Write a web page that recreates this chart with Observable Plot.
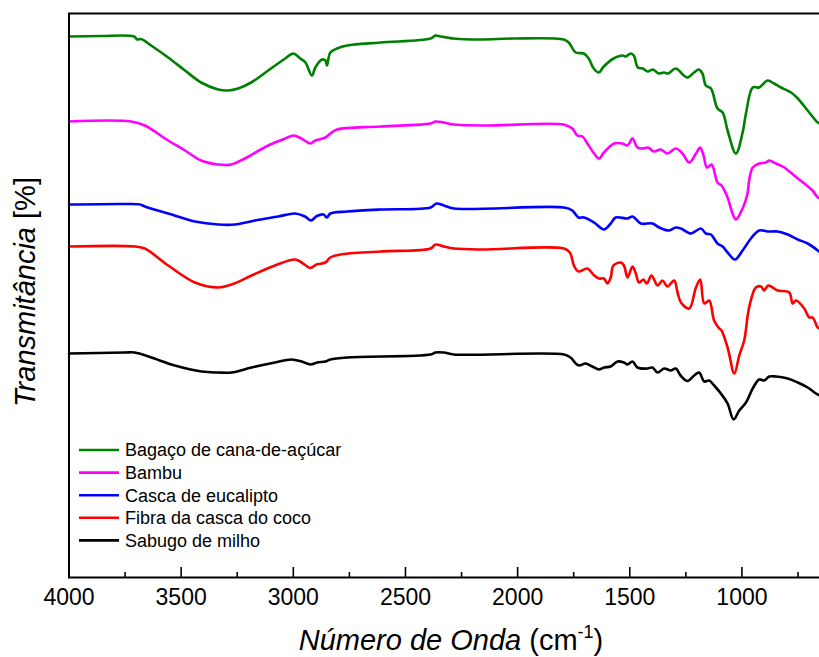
<!DOCTYPE html>
<html>
<head>
<meta charset="utf-8">
<script src="https://cdn.jsdelivr.net/npm/d3@7"></script>
<script src="https://cdn.jsdelivr.net/npm/@observablehq/plot@0.6"></script>
<style>
  html, body { margin: 0; padding: 0; background: #fff; }
  #chart { width: 819px; height: 657px; overflow: hidden; }
</style>
</head>
<body>
<div id="chart"></div>
<script>
// Series names and colours
const seriesNames = ["Bagaço de cana-de-açúcar", "Bambu", "Casca de eucalipto", "Fibra da casca do coco", "Sabugo de milho"];
const seriesColors = ["#008000", "#ff00ff", "#0000ff", "#ff0000", "#000000"];

// Spectra: [wavenumber (cm-1), transmittance (a.u., stacked)]
const bagaco = [[4000,541],[3862,541.5],[3710,541],[3696,538],[3679,538.5],[3634,532],[3558,520],[3483,507],[3411,495],[3335,488],[3290,487],[3246,489],[3188,495],[3112,507],[3036,519],[3000,524],[2969,519],[2946,515],[2917,502],[2902,510],[2872,518],[2857,517],[2850,512],[2835,525],[2805,529],[2760,532],[2612,535],[2388,539],[2366,542],[2344,541],[2314,540],[2286,539],[2165,538],[2018,539],[1795,538],[1772,535],[1741,525],[1705,524],[1683,519],[1661,509],[1638,505],[1616,511],[1572,519],[1531,522],[1518,521],[1496,524],[1482,522],[1464,510],[1442,509],[1420,506],[1397,508],[1371,504],[1348,505],[1330,504],[1295,509],[1259,502],[1241,500],[1214,505],[1192,508],[1176,504],[1161,492],[1138,489],[1109,469],[1086,465],[1064,447],[1027,424],[997,445],[982,464],[952,490],[924,490],[885,497],[857,494],[826,490],[781,485],[751,479],[707,467],[662,455],[652,454]];
const bambu = [[4000,456],[3723,456],[3662,452],[3558,437],[3483,427],[3411,417],[3335,413],[3277,413],[3216,419],[3112,432],[3036,439],[2999,442],[2964,439],[2923,434],[2902,437],[2857,440],[2835,444],[2805,448],[2612,451],[2388,454],[2366,456],[2330,455],[2286,453],[2135,452],[1795,453],[1756,449],[1734,442],[1711,441],[1689,434],[1659,424],[1637,419],[1615,425],[1570,434],[1533,434],[1510,432],[1488,439],[1466,430],[1443,429],[1418,430],[1392,426],[1362,428],[1332,424],[1295,429],[1265,424],[1235,415],[1205,424],[1186,430],[1171,422],[1156,410],[1135,413],[1109,395],[1091,392],[1064,380],[1042,364],[1027,358],[997,369],[975,384],[968,397],[952,410],[923,414],[893,415],[878,417],[848,414],[811,410],[767,402],[722,394],[685,387],[662,380],[652,379]];
const eucalipto = [[4000,373],[3751,373.5],[3683,373],[3662,371],[3558,364],[3439,356],[3335,353],[3260,353],[3171,357],[3067,361],[2992,364],[2948,361],[2921,357],[2895,361.5],[2865,363],[2850,360],[2835,364],[2760,366],[2612,368],[2388,370],[2362,374],[2329,372],[2284,369],[1793,370],[1756,367],[1729,360],[1704,360],[1659,355],[1615,348],[1585,354],[1563,360],[1510,359],[1488,361],[1451,354],[1399,354],[1369,350],[1325,347],[1295,350],[1272,349],[1228,344],[1183,349],[1161,344],[1138,343],[1109,334],[1086,331],[1064,325],[1031,318],[997,327],[960,339],[923,347],[885,346],[841,346],[796,343],[751,338],[707,334],[662,327],[652,325]];
const coco = [[4000,331],[3705,331],[3662,329],[3558,312],[3439,295],[3335,290],[3276,293],[3186,302],[3082,312],[2992,318],[2963,315],[2924,309.5],[2897,313],[2857,315],[2835,320],[2790,323],[2612,326],[2388,329],[2366,333],[2329,331],[2284,329],[2165,328],[1793,329],[1767,325],[1749,312],[1729,306],[1689,309],[1659,302],[1637,299],[1615,299],[1600,294],[1585,300],[1573,312],[1540,315],[1526,312],[1510,300],[1488,311],[1473,304],[1459,295],[1439,298],[1424,294],[1403,302],[1376,292],[1354,297],[1332,291],[1302,297],[1287,285],[1272,275],[1235,269],[1205,290],[1186,298],[1168,274],[1146,277],[1124,257],[1101,249],[1091,247],[1064,230],[1034,204],[1012,222],[990,237],[968,270],[938,290],[915,291],[901,287],[883,292],[863,290],[841,287],[789,285],[774,274],[759,277],[722,269],[700,260],[685,260],[662,250],[652,249]];
const sabugo = [[4000,224],[3751,225],[3707,225],[3633,220],[3528,212],[3409,206],[3335,205],[3276,205],[3186,210],[3082,215],[3008,218],[2963,216],[2923,213],[2894,215],[2857,216],[2835,218],[2760,220],[2388,223],[2366,225],[2329,225],[2284,223],[1793,223],[1764,220],[1741,214],[1726,212],[1697,214],[1667,211],[1637,208],[1615,210],[1585,211],[1555,216],[1526,215],[1510,213],[1488,216],[1466,210],[1421,209],[1399,210],[1376,205],[1347,209],[1317,207],[1295,209],[1272,201.5],[1243,196.5],[1213,202],[1191,205],[1168,196],[1146,197],[1124,192],[1094,184],[1064,174],[1037,158],[1012,167],[982,175],[952,189],[923,198],[901,197],[878,201],[848,201],[796,199],[751,195],[707,190],[670,184],[652,182]];

// Axis ticks
const majorTicks = [4000, 3500, 3000, 2500, 2000, 1500, 1000];
const minorTicks = [3750, 3250, 2750, 2250, 1750, 1250, 750];
const xDomain = [4000, 652];
const yDomain = [0, 564];

const spectra = [bagaco, bambu, eucalipto, coco, sabugo];
const rows = spectra.flatMap((s, i) => s.map(([wn, t]) => ({wn, t, name: seriesNames[i]})));

const font = "'Liberation Sans', Arial, Helvetica, sans-serif";
const W = 819, H = 657, mL = 68, mR = 0, mT = 13, mB = 80;

const plot = Plot.plot({
  width: W,
  height: H,
  marginLeft: mL,
  marginRight: mR,
  marginTop: mT,
  marginBottom: mB,
  style: {fontFamily: font, background: "#fff", overflow: "visible"},
  x: {domain: xDomain, range: [mL + 0.5, W + 0.5], axis: null},
  y: {domain: yDomain, axis: null},
  color: {domain: seriesNames, range: seriesColors},
  marks: [
    Plot.line(rows, {x: "wn", y: "t", z: "name", stroke: "name", strokeWidth: 2.6, curve: "catmull-rom", strokeLinejoin: "round"}),
    Plot.ruleY([yDomain[0], yDomain[1]], {stroke: "#000", strokeWidth: 2}),
    Plot.ruleX([xDomain[0]], {stroke: "#000", strokeWidth: 2}),
    Plot.tickX(majorTicks, {x: d => d, stroke: "#000", strokeWidth: 1.6, insetTop: 554}),
    Plot.tickX(minorTicks, {x: d => d, stroke: "#000", strokeWidth: 1.6, insetTop: 559}),
    Plot.axisX({ticks: majorTicks, tickSize: 0, tickPadding: 11, fontSize: 23, tickFormat: d => String(d), label: null, fill: "#000"})
  ]
});

document.getElementById("chart").appendChild(plot);

const svg = d3.select(plot);
// X axis title
const xt = svg.append("text")
  .attr("x", 451).attr("y", 650)
  .attr("text-anchor", "middle")
  .attr("font-family", font).attr("font-size", 29).attr("fill", "#000");
xt.append("tspan").attr("font-style", "italic").text("Número de Onda");
xt.append("tspan").text(" (cm");
xt.append("tspan").attr("font-size", 18).attr("dy", -12).text("-1");
xt.append("tspan").attr("dy", 12).text(")");

// Y axis title
const yt = svg.append("text")
  .attr("transform", "translate(35,292) rotate(-90)")
  .attr("text-anchor", "middle")
  .attr("font-family", font).attr("font-size", 29).attr("fill", "#000");
yt.append("tspan").attr("font-style", "italic").text("Transmitância");
yt.append("tspan").text(" [%]");

// Legend
const lg = svg.append("g").attr("font-family", font).attr("font-size", 18).attr("text-anchor", "start");
seriesNames.forEach((name, i) => {
  const cy = 450 + i * 22.6;
  lg.append("line").attr("x1", 79).attr("x2", 119).attr("y1", cy).attr("y2", cy)
    .attr("stroke", seriesColors[i]).attr("stroke-width", 2.6);
  lg.append("text").attr("x", 125).attr("y", cy).attr("dy", "0.36em")
    .attr("text-anchor", "start").attr("fill", "#000").text(name);
});
</script>
</body>
</html>
